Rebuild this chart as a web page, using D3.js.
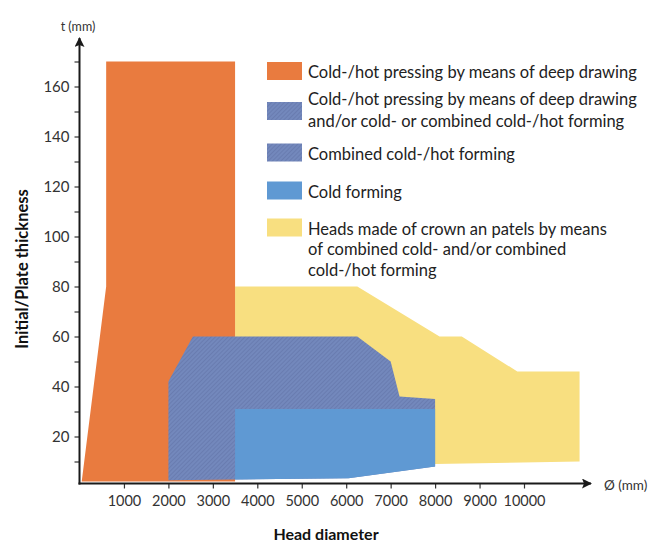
<!DOCTYPE html>
<html>
<head>
<meta charset="utf-8">
<script src="https://cdn.jsdelivr.net/npm/d3@7"></script>
<style>
  html, body { margin: 0; padding: 0; background: #ffffff; }
  svg { display: block; font-family: Lato, "Open Sans", sans-serif; }
</style>
</head>
<body>
<svg id="chart" width="666" height="544"></svg>
<script>
// ---------- data ----------
const xTicks = [1000, 2000, 3000, 4000, 5000, 6000, 7000, 8000, 9000, 10000];
const yTicks = [10, 20, 30, 40, 50, 60, 70, 80, 90, 100, 110, 120, 130, 140, 150, 160, 170];
const yLabelled = [20, 40, 60, 80, 100, 120, 140, 160];

// region outlines: [diameter (mm), thickness (mm)]
const yellowRegion = [[3500, 80], [6250, 80], [8100, 60], [8600, 60], [9850, 46], [11250, 46], [11250, 10], [8000, 9], [3500, 9]];
const orangeRegion = [[50, 2], [600, 80], [600, 170], [3500, 170], [3500, 2]];
const hatchedRegion = [[2000, 2.5], [2000, 42], [2550, 60], [6250, 60], [7000, 50], [7200, 36], [8000, 35], [8000, 8], [6050, 3.3], [3500, 2.8]];
const blueRegion = [[3500, 2.8], [3500, 31], [8000, 31], [8000, 8], [6050, 3.3]];

const legendItems = [
  { key: "orange", lines: ["Cold-/hot pressing by means of deep drawing"] },
  { key: "hatched", lines: ["Cold-/hot pressing by means of deep drawing", "and/or cold- or combined cold-/hot forming"] },
  { key: "hatched", lines: ["Combined cold-/hot forming"] },
  { key: "blue", lines: ["Cold forming"] },
  { key: "yellow", lines: ["Heads made of crown an patels by means", "of combined cold- and/or combined", "cold-/hot forming"] }
];

const colors = { orange: "#e97b3f", blue: "#5f99d3", yellow: "#f8df80", hatched: "url(#hatch)" };

// ---------- scales ----------
const svg = d3.select("#chart");
const x = d3.scaleLinear().domain([0, 10000]).range([79.5, 524]);
const y = d3.scaleLinear().domain([0, 160]).range([486.5, 86.5]);
const axisY = 483.5;   // x-axis line position (px)
const axisX = 79.5;    // y-axis line position (px)

// ---------- defs ----------
const defs = svg.append("defs");
const pat = defs.append("pattern").attr("id", "hatch")
  .attr("patternUnits", "userSpaceOnUse").attr("width", 3).attr("height", 3)
  .attr("patternTransform", "rotate(45)");
pat.append("rect").attr("width", 3).attr("height", 3).attr("fill", "#7388bc");
pat.append("line").attr("x1", 0).attr("y1", 0).attr("x2", 0).attr("y2", 3)
  .attr("stroke", "#6274a8").attr("stroke-width", 1.2);

defs.append("marker").attr("id", "arrow").attr("viewBox", "0 0 10 10")
  .attr("refX", 9).attr("refY", 5).attr("markerWidth", 10).attr("markerHeight", 10)
  .attr("markerUnits", "userSpaceOnUse").attr("orient", "auto")
  .append("path").attr("d", "M0,0 L10,5 L0,10 L2,5 Z").attr("fill", "#1a1a1a");

// ---------- regions ----------
const line = d3.line().x(d => x(d[0])).y(d => y(d[1])).curve(d3.curveLinearClosed);
[[yellowRegion, colors.yellow], [orangeRegion, colors.orange], [hatchedRegion, colors.hatched], [blueRegion, colors.blue]]
  .forEach(([pts, fill]) => {
    svg.append("path").attr("d", line(pts)).attr("fill", fill);
  });

// ---------- axes ----------
const xAxis = svg.append("g").attr("transform", `translate(0,${axisY})`)
  .call(d3.axisBottom(x).tickValues(xTicks).tickSize(5).tickPadding(7).tickFormat(d3.format("d")));
xAxis.select(".domain").remove();
xAxis.selectAll("text").attr("font-size", 14.5).attr("fill", "#333").attr("font-family", "Lato");
xAxis.selectAll("line").attr("stroke", "#333").attr("stroke-width", 1.2);

const yAxis = svg.append("g").attr("transform", `translate(${axisX},0)`)
  .call(d3.axisLeft(y).tickValues(yTicks).tickSize(5).tickPadding(5)
    .tickFormat(d => yLabelled.includes(d) ? d : ""));
yAxis.select(".domain").remove();
yAxis.selectAll("text").attr("font-size", 15).attr("fill", "#333").attr("font-family", "Lato");
yAxis.selectAll("line").attr("stroke", "#333").attr("stroke-width", 1.2);

// axis lines with arrows
svg.append("line").attr("x1", axisX - 1).attr("y1", axisY).attr("x2", 591).attr("y2", axisY)
  .attr("stroke", "#1a1a1a").attr("stroke-width", 2).attr("marker-end", "url(#arrow)");
svg.append("line").attr("x1", axisX).attr("y1", axisY + 1).attr("x2", axisX).attr("y2", 38)
  .attr("stroke", "#1a1a1a").attr("stroke-width", 2).attr("marker-end", "url(#arrow)");

// unit labels
svg.append("text").attr("x", 78).attr("y", 31).attr("text-anchor", "middle")
  .attr("font-size", 12.5).attr("fill", "#333").text("t (mm)");
svg.append("text").attr("x", 604).attr("y", 490).attr("text-anchor", "start")
  .attr("font-size", 13.5).attr("fill", "#333").text("Ø (mm)");

// axis titles
svg.append("text").attr("transform", "translate(28,269) rotate(-90)").attr("text-anchor", "middle")
  .attr("font-size", 16.5).attr("font-weight", "bold").attr("fill", "#111").text("Initial/Plate thickness");
svg.append("text").attr("x", 326).attr("y", 540).attr("text-anchor", "middle")
  .attr("font-size", 16).attr("font-weight", "bold").attr("fill", "#111").text("Head diameter");

// ---------- legend ----------
const swatchTop = [62, 102, 143.5, 181.5, 218.5];
const textBase = [78, 105, 160, 197.5, 234.5];
const lineStep = [22, 22, 22, 22, 20.5];
const lg = svg.append("g");
legendItems.forEach((item, i) => {
  lg.append("rect").attr("x", 267).attr("y", swatchTop[i]).attr("width", 35).attr("height", 18)
    .attr("fill", colors[item.key]);
  item.lines.forEach((t, j) => {
    lg.append("text").attr("x", 308).attr("y", textBase[i] + j * lineStep[i])
      .attr("font-size", 16.5).attr("fill", "#222").text(t);
  });
});
</script>
</body>
</html>
